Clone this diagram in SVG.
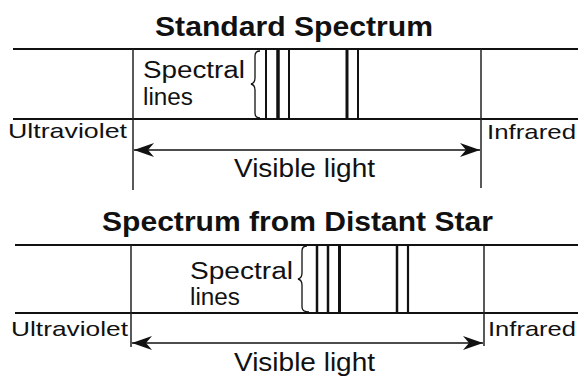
<svg xmlns="http://www.w3.org/2000/svg" width="578" height="376" viewBox="0 0 578 376">
  <style>
    .title { font-family: "Liberation Sans", Arial, sans-serif; font-weight: bold; font-size: 27px; fill: #111; }
    .lbl { font-family: "Liberation Sans", Arial, sans-serif; font-size: 26px; fill: #111; }
    .lbl2 { font-family: "Liberation Sans", Arial, sans-serif; font-size: 23px; fill: #111; }
    .side { font-family: "Liberation Sans", Arial, sans-serif; font-size: 21px; fill: #111; }
    .hl { stroke: #111; stroke-width: 1.8; fill: none; }
    .vl { stroke: #222; stroke-width: 1.5; fill: none; }
    .sp { stroke: #111; fill: none; }
    .brace { stroke: #111; stroke-width: 1.3; fill: none; }
    .arrow { stroke: #111; stroke-width: 1.6; fill: none; marker-start: url(#ah); marker-end: url(#ah); }
  </style>
  <defs>
    <marker id="ah" markerUnits="userSpaceOnUse" markerWidth="22" markerHeight="16" refX="20" refY="8" orient="auto-start-reverse">
      <path d="M20 8 L0 1 L6 8 L0 15 Z" fill="#111"/>
    </marker>
  </defs>
  <rect width="578" height="376" fill="#fff"/>

  <g id="standard-spectrum">
    <text id="title-standard" class="title" x="155" y="36" textLength="278" lengthAdjust="spacingAndGlyphs">Standard Spectrum</text>
    <g id="frame-standard">
      <line class="hl" x1="13" y1="49" x2="578" y2="49"/>
      <line class="hl" x1="13" y1="119" x2="578" y2="119"/>
      <line class="vl" x1="133" y1="49" x2="133" y2="190"/>
      <line class="vl" x1="481" y1="49" x2="481" y2="188"/>
    </g>
    <g id="lines-standard">
      <line class="sp" stroke-width="2" x1="266" y1="49" x2="266" y2="119"/>
      <line class="sp" stroke-width="3.5" x1="278" y1="49" x2="278" y2="119"/>
      <line class="sp" stroke-width="2" x1="289" y1="49" x2="289" y2="119"/>
      <line class="sp" stroke-width="3" x1="347" y1="49" x2="347" y2="119"/>
      <line class="sp" stroke-width="2" x1="358" y1="49" x2="358" y2="119"/>
    </g>
    <path id="brace-standard" class="brace" d="M260 51 Q255 51 255 56 L255 78 Q255 83 251 84 Q255 85 255 90 L255 113 Q255 118 260 118"/>
    <g id="label-spectral-standard">
      <text class="lbl2" x="143" y="78" textLength="102" lengthAdjust="spacingAndGlyphs">Spectral</text>
      <text class="lbl2" x="143" y="105" textLength="50" lengthAdjust="spacingAndGlyphs">lines</text>
    </g>
    <text id="uv-standard" class="side" x="8" y="138" textLength="119" lengthAdjust="spacingAndGlyphs">Ultraviolet</text>
    <text id="ir-standard" class="side" x="487" y="139" textLength="89" lengthAdjust="spacingAndGlyphs">Infrared</text>
    <text id="vis-standard" class="lbl" x="234" y="177" textLength="141" lengthAdjust="spacingAndGlyphs">Visible light</text>
  </g>

  <g id="distant-spectrum">
    <text id="title-distant" class="title" x="102" y="231" textLength="391" lengthAdjust="spacingAndGlyphs">Spectrum from Distant Star</text>
    <g id="frame-distant">
      <line class="hl" x1="15" y1="245" x2="578" y2="245"/>
      <line class="hl" x1="15" y1="313" x2="578" y2="313"/>
      <line class="vl" x1="131" y1="245" x2="131" y2="347"/>
      <line class="vl" x1="484" y1="245" x2="484" y2="346"/>
    </g>
    <g id="lines-distant">
      <line class="sp" stroke-width="2.5" x1="317" y1="245" x2="317" y2="313"/>
      <line class="sp" stroke-width="2.5" x1="328" y1="245" x2="328" y2="313"/>
      <line class="sp" stroke-width="3" x1="339.5" y1="245" x2="339.5" y2="313"/>
      <line class="sp" stroke-width="2.5" x1="397" y1="245" x2="397" y2="313"/>
      <line class="sp" stroke-width="2.2" x1="408" y1="245" x2="408" y2="313"/>
    </g>
    <path id="brace-distant" class="brace" d="M307 246 Q302 246 302 251 L302 273 Q302 278 298 279 Q302 280 302 285 L302 307 Q302 312 309 312"/>
    <g id="label-spectral-distant">
      <text class="lbl2" x="190" y="279" textLength="103" lengthAdjust="spacingAndGlyphs">Spectral</text>
      <text class="lbl2" x="190" y="305" textLength="50" lengthAdjust="spacingAndGlyphs">lines</text>
    </g>
    <text id="uv-distant" class="side" x="11" y="336" textLength="117" lengthAdjust="spacingAndGlyphs">Ultraviolet</text>
    <text id="ir-distant" class="side" x="488" y="336" textLength="88" lengthAdjust="spacingAndGlyphs">Infrared</text>
    <text id="vis-distant" class="lbl" x="234" y="371" textLength="141" lengthAdjust="spacingAndGlyphs">Visible light</text>
  </g>

  <g id="connectors">
    <line id="arrow-standard" class="arrow" x1="134" y1="150" x2="480" y2="150"/>
    <line id="arrow-distant" class="arrow" x1="132" y1="343" x2="483" y2="343"/>
  </g>
</svg>
